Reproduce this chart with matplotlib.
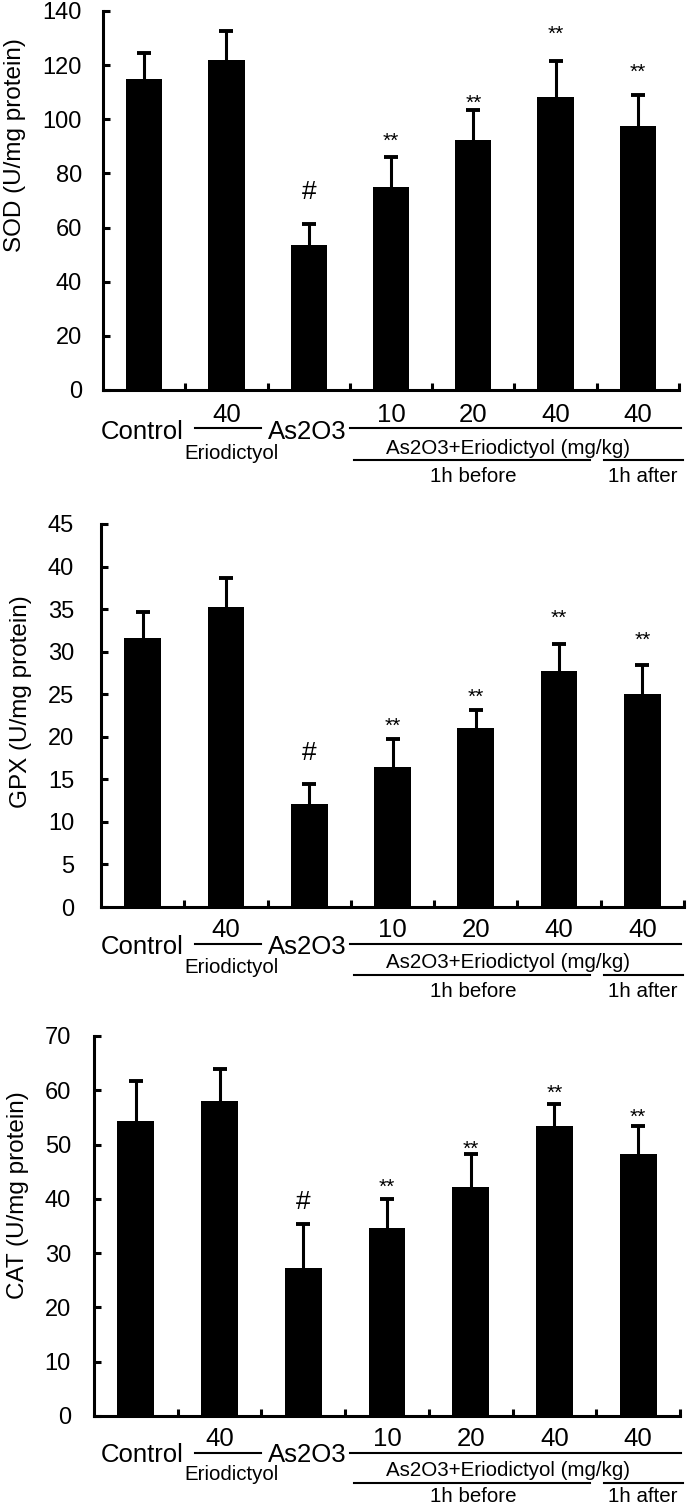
import matplotlib
matplotlib.use('Agg')
import matplotlib.pyplot as plt
from matplotlib import transforms
from matplotlib.lines import Line2D
import numpy as np

plt.rcParams['font.family'] = ['Liberation Sans', 'DejaVu Sans']

# ---------------- data ----------------
dose_labels = ['', '40', '', '10', '20', '40', '40']

sod_mean = [114.8, 121.8, 53.4, 74.9, 92.4, 108.4, 97.7]
sod_err = [9.6, 10.9, 7.9, 11.3, 11.1, 13.2, 11.1]
sod_sig_y = [None, None, 74.0, 94.5, 108.4, 133.8, 120.1]

gpx_mean = [31.6, 35.2, 12.05, 16.4, 21.0, 27.7, 25.0]
gpx_err = [3.1, 3.5, 2.35, 3.3, 2.2, 3.2, 3.4]
gpx_sig_y = [None, None, 18.4, 22.1, 25.5, 34.7, 32.2]

cat_mean = [54.4, 58.0, 27.2, 34.7, 42.2, 53.4, 48.2]
cat_err = [7.4, 6.0, 8.1, 5.3, 6.0, 4.0, 5.2]
cat_sig_y = [None, None, 39.8, 43.4, 50.4, 60.7, 56.3]

sig_marks = ['', '', '#', '**', '**', '**', '**']

ylabels = ['SOD (U/mg protein)', 'GPX (U/mg protein)', 'CAT (U/mg protein)']
ymax = [140, 45, 70]
ystep = [20, 5, 10]

W, H = 687, 1505
fig = plt.figure(figsize=(W / 100, H / 100), dpi=100)

# layout in pixels: left, right, bottom(0), top(max), tick pad px, ylabel x px, ylabel center frac
layouts = [
    dict(l=103, r=679, b=390, t=11, pad=21, lx=15, lc=0.646,
         off=dict(num=32, line=38, ctl=49, erio=69, comb=64, low=70, hb=92)),
    dict(l=101, r=684, b=907, t=524, pad=27, lx=21, lc=0.537,
         off=dict(num=30, line=36.5, ctl=46.5, erio=66, comb=61.5, low=68, hb=90)),
    dict(l=94, r=680, b=1416, t=1036, pad=23, lx=18, lc=0.58,
         off=dict(num=30.5, line=36.5, ctl=46.5, erio=64, comb=60, low=67, hb=86)),
]

means = [sod_mean, gpx_mean, cat_mean]
errs = [sod_err, gpx_err, cat_err]
sigys = [sod_sig_y, gpx_sig_y, cat_sig_y]

LW = 2.2
x = np.arange(len(dose_labels))


def under_text(ax, xpos, dy_px, s, size, xcoord='data'):
    ax.annotate(s, xy=(xpos, 0), xycoords=(xcoord, 'axes fraction'),
                xytext=(0, -dy_px * 0.72), textcoords='offset points',
                ha='center', va='baseline', fontsize=size,
                annotation_clip=False)


def under_line(ax, x0_px, x1_px, dy_px):
    tr = transforms.blended_transform_factory(fig.transFigure, ax.transAxes) + \
        transforms.ScaledTranslation(0, -dy_px / 100, fig.dpi_scale_trans)
    ax.add_line(Line2D([x0_px / W, x1_px / W], [0, 0], transform=tr,
                       color='black', lw=1.5, clip_on=False))


for i, L in enumerate(layouts):
    ax = fig.add_axes([L['l'] / W, 1 - L['b'] / H, (L['r'] - L['l']) / W,
                       (L['b'] - L['t']) / H])
    m = np.array(means[i])
    e = np.array(errs[i])
    ax.bar(x, m, width=0.44, color='black')
    ax.errorbar(x, m, yerr=[np.zeros(len(x)), e], fmt='none', ecolor='black',
                elinewidth=LW, capsize=0)
    ax.plot(x, m + e, linestyle='none', marker='_', markersize=10.5,
            markeredgewidth=2.8, color='black')
    ax.set_xlim(-0.5, len(x) - 0.5)
    ax.set_ylim(0, ymax[i])
    ax.set_yticks(np.arange(0, ymax[i] + 0.1, ystep[i]))
    ax.set_xticks(x[:-1] + 0.5)
    ax.set_xticks([len(x) - 0.5], minor=True)
    ax.set_xticklabels([])
    ax.tick_params(axis='x', which='both', direction='in', length=5, width=LW,
                   labelbottom=False)
    ax.tick_params(axis='y', direction='in', length=5, width=LW,
                   labelsize=17, pad=L['pad'] * 0.72)
    for s in ['top', 'right']:
        ax.spines[s].set_visible(False)
    for s in ['left', 'bottom']:
        ax.spines[s].set_linewidth(LW)
    ax.set_ylabel(ylabels[i], fontsize=17.5, va='center')
    ax.yaxis.set_label_coords((L['lx'] - L['l']) / (L['r'] - L['l']), L['lc'])

    # significance marks
    for xi, mk, yv in zip(x, sig_marks, sigys[i]):
        if yv is None:
            continue
        if mk == '**':
            ax.annotate(mk, xy=(xi, yv), xytext=(0, -9.0), textcoords='offset points',
                        ha='center', va='baseline', fontsize=15)
        else:
            ax.annotate(mk, xy=(xi, yv), xytext=(0, -6.8), textcoords='offset points',
                        ha='center', va='baseline', fontsize=19)

    o = L['off']
    # group labels below the axis
    for xi, d in zip(x, dose_labels):
        if d:
            under_text(ax, xi, o['num'], d, 18.5)
    under_text(ax, 142 / W, o['ctl'], 'Control', 18.5, xcoord='figure fraction')
    under_text(ax, 307 / W, o['ctl'], 'As2O3', 18.5, xcoord='figure fraction')
    under_text(ax, 231 / W, o['erio'], 'Eriodictyol', 14.8, xcoord='figure fraction')
    under_text(ax, 508 / W, o['comb'], 'As2O3+Eriodictyol (mg/kg)', 14.8, xcoord='figure fraction')
    under_text(ax, 473 / W, o['hb'], '1h before', 14.8, xcoord='figure fraction')
    under_text(ax, 643 / W, o['hb'], '1h after', 14.8, xcoord='figure fraction')
    under_line(ax, 195, 261, o['line'])
    under_line(ax, 350, 681, o['line'])
    under_line(ax, 354, 590, o['low'])
    under_line(ax, 604, 683, o['low'])

fig.savefig('out.png', dpi=100)
